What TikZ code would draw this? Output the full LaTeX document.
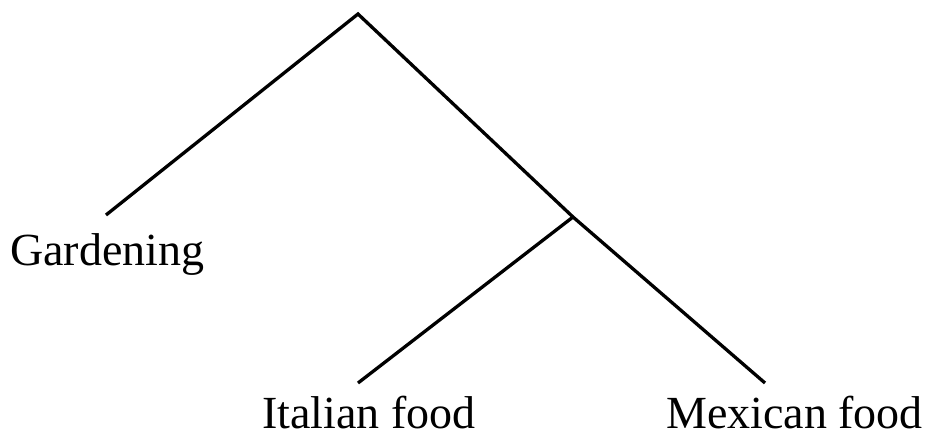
\documentclass[tikz,border=0pt]{standalone}
\usepackage{fontspec}
\setmainfont{Liberation Serif}
\begin{document}
\begin{tikzpicture}[x=1pt,y=-1pt,
  branch/.style={line width=3.3pt,line cap=butt,line join=miter},
  leaflabel/.style={inner sep=0pt,anchor=base west,font=\fontsize{46}{55}\selectfont}]
\useasboundingbox (0,0) rectangle (929,434);
\coordinate (root) at (358,14);
\coordinate (mid) at (573,217);
\coordinate (gEnd) at (106,215);
\coordinate (iEnd) at (358,383);
\coordinate (mEnd) at (765,383);
\node[leaflabel] (gardening) at (10,265) {Gardening};
\node[leaflabel] (italian) at (262,428) {Italian food};
\node[leaflabel] (mexican) at (666,428) {Mexican food};
\draw[branch] (gEnd) -- (root) -- (mid) -- (mEnd);
\draw[branch] (mid) -- (iEnd);
\end{tikzpicture}
\end{document}
